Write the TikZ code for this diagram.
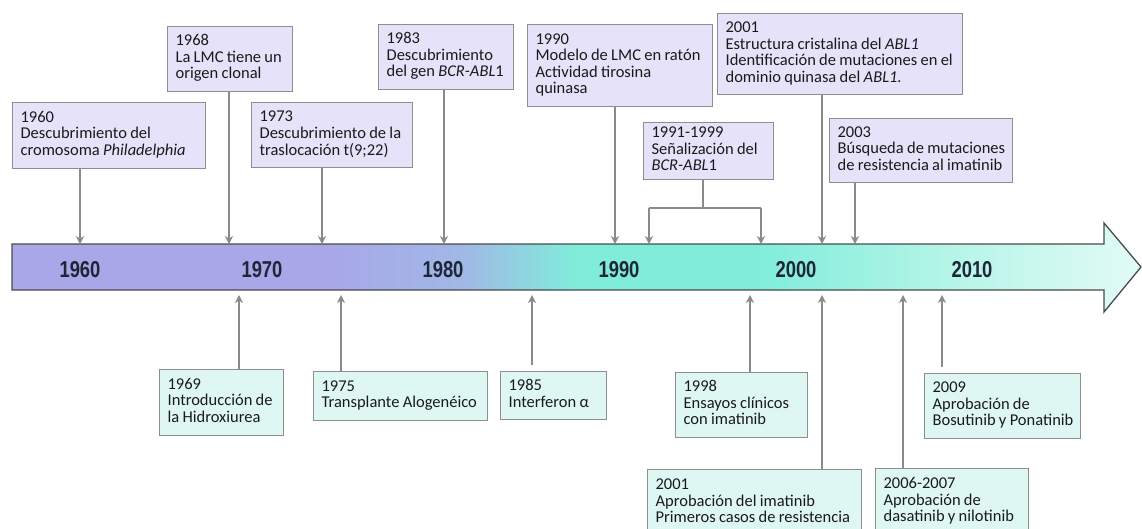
\documentclass[tikz,border=0pt]{standalone}
\usepackage{fontspec}
\setmainfont{Carlito}
\newfontfamily\yearfont{Liberation Sans}
\usetikzlibrary{arrows.meta}
\definecolor{boxline}{HTML}{8E8E8E}
\definecolor{topfill}{HTML}{E6E2FA}
\definecolor{botfill}{HTML}{DEF7F3}
\definecolor{conncol}{HTML}{8A8A8A}
\definecolor{txt}{HTML}{1A1A1A}
\definecolor{yeartxt}{HTML}{1D2738}
\definecolor{barline}{HTML}{4A4A4A}
\definecolor{barA}{HTML}{A9A7E8}
\definecolor{barB}{HTML}{A0B8E6}
\definecolor{barC}{HTML}{80EDDA}
\definecolor{barD}{HTML}{B5F5E8}
\definecolor{barE}{HTML}{E2FBF6}
\pgfdeclarehorizontalshading{timebar}{100bp}{color(0bp)=(barA); color(25bp)=(barA); color(39bp)=(barA); color(45bp)=(barB); color(50bp)=(barC); color(58bp)=(barC); color(66.5bp)=(barD); color(75bp)=(barE); color(100bp)=(barE)}
\newcommand\evlines[1]{{\spaceskip=0.2em plus 0.05em\relax\begin{tabular}{@{}l@{}}#1\end{tabular}}}
\begin{document}
\begin{tikzpicture}[x=1pt,y=-1pt,
  evbox/.style={draw=boxline, line width=1.2pt, anchor=north west, inner xsep=8pt, inner ysep=0pt, align=left, font=\fontsize{16.5}{16.5}\selectfont, text=txt},
  topbox/.style={evbox, fill=topfill},
  botbox/.style={evbox, fill=botfill},
  conn/.style={draw=conncol, line width=1.2pt, -{Stealth[length=8pt,width=8pt,inset=2.5pt]}},
  plainline/.style={draw=conncol, line width=1.2pt},
  yearlbl/.style={font=\yearfont\bfseries\fontsize{23}{23}\selectfont, text=yeartxt, xscale=0.8}]
\clip (0,0) rectangle (1142,528);
\fill[white] (0,0) rectangle (1142,528);

% time bar
\shadedraw[shading=timebar, draw=barline, line width=1.3pt]
  (12,244) -- (1104,244) -- (1104,223) -- (1141,267) -- (1104,312) -- (1104,290) -- (12,290) -- cycle;
\node[yearlbl] (y1960) at (80,270) {1960};
\node[yearlbl] (y1970) at (262,270) {1970};
\node[yearlbl] (y1980) at (443,270) {1980};
\node[yearlbl] (y1990) at (619,270) {1990};
\node[yearlbl] (y2000) at (796,270) {2000};
\node[yearlbl] (y2010) at (972,270) {2010};

% top boxes
\node[topbox, minimum width=193pt, minimum height=66pt, text width=177pt] (t1960) at (12,102) {\evlines{1960\\Descubrimiento del\\cromosoma \textit{Philadelphia}}};
\node[topbox, minimum width=125pt, minimum height=65pt, text width=109pt] (t1968) at (167,26) {\evlines{1968\\La LMC tiene un\\origen clonal}};
\node[topbox, minimum width=161pt, minimum height=65pt, text width=145pt] (t1973) at (251,102) {\evlines{1973\\Descubrimiento de la\\traslocación t(9;22)}};
\node[topbox, minimum width=135pt, minimum height=65pt, text width=119pt] (t1983) at (378,24) {\evlines{1983\\Descubrimiento\\del gen \textit{BCR-ABL}1}};
\node[topbox, minimum width=185pt, minimum height=82pt, text width=169pt] (t1990) at (527,24) {\evlines{1990\\Modelo de LMC en ratón\\Actividad tirosina\\quinasa}};
\node[topbox, minimum width=130pt, minimum height=57pt, text width=114pt] (t1991) at (643,122) {\evlines{1991-1999\\Señalización del\\\textit{BCR-ABL}1}};
\node[topbox, minimum width=245pt, minimum height=81pt, text width=229pt] (t2001) at (717,13) {\evlines{2001\\Estructura cristalina del \textit{ABL1}\\Identificación de mutaciones en el\\dominio quinasa del \textit{ABL1.}}};
\node[topbox, minimum width=183pt, minimum height=64pt, text width=167pt] (t2003) at (829,118) {\evlines{2003\\Búsqueda de mutaciones\\de resistencia al imatinib}};

% bottom boxes
\node[botbox, minimum width=124pt, minimum height=66pt, text width=108pt] (b1969) at (159,369) {\evlines{1969\\Introducción de\\la Hidroxiurea}};
\node[botbox, minimum width=174pt, minimum height=49pt, text width=158pt] (b1975) at (313,371) {\evlines{1975\\Transplante Alogenéico}};
\node[botbox, minimum width=106pt, minimum height=48pt, text width=90pt] (b1985) at (500,371) {\evlines{1985\\Interferon α}};
\node[botbox, minimum width=132pt, minimum height=65pt, text width=116pt] (b1998) at (675,372) {\evlines{1998\\Ensayos clínicos\\con imatinib}};
\node[botbox, minimum width=214pt, minimum height=67pt, text width=198pt] (b2001) at (647,469) {\evlines{2001\\Aprobación del imatinib\\Primeros casos de resistencia}};
\node[botbox, minimum width=153pt, minimum height=67pt, text width=137pt] (b2006) at (875,468) {\evlines{2006-2007\\Aprobación de\\dasatinib y nilotinib}};
\node[botbox, minimum width=156pt, minimum height=65pt, text width=140pt] (b2009) at (924,373) {\evlines{2009\\Aprobación de\\Bosutinib y Ponatinib}};

% arrow end points on the bar
\coordinate (a1960) at (80,244);
\coordinate (a1968) at (229,244);
\coordinate (a1973) at (322,244);
\coordinate (a1983) at (444,244);
\coordinate (a1990) at (615,244);
\coordinate (aL) at (649,244);
\coordinate (aR) at (761,244);
\coordinate (a2001) at (822,244);
\coordinate (a2003) at (855,244);
\coordinate (brL) at (649,208);
\coordinate (brR) at (761,208);
\coordinate (brS) at (703,208);
\coordinate (c1969) at (239,295);
\coordinate (c1975) at (341,295);
\coordinate (c1985) at (532,295);
\coordinate (c1998) at (750,295);
\coordinate (c2001) at (822,295);
\coordinate (c2006) at (903,295);
\coordinate (c2009) at (942,295);

% top connectors
\draw[conn] (a1960 |- t1960.south) -- (a1960);
\draw[conn] (a1968 |- t1968.south) -- (a1968);
\draw[conn] (a1973 |- t1973.south) -- (a1973);
\draw[conn] (a1983 |- t1983.south) -- (a1983);
\draw[conn] (a1990 |- t1990.south) -- (a1990);
\draw[plainline] (brS |- t1991.south) -- (brS);
\draw[plainline] (brL) -- (brR);
\draw[conn] (brL) -- (aL);
\draw[conn] (brR) -- (aR);
\draw[conn] (a2001 |- t2001.south) -- (a2001);
\draw[conn] (a2003 |- t2003.south) -- (a2003);

% bottom connectors
\draw[conn] (c1969 |- b1969.north) -- (c1969);
\draw[conn] (c1975 |- b1975.north) -- (c1975);
\draw[conn, shorten <=6pt] (c1985 |- b1985.north) -- (c1985);
\draw[conn] (c1998 |- b1998.north) -- (c1998);
\draw[conn] (c2001 |- b2001.north) -- (c2001);
\draw[conn] (c2006 |- b2006.north) -- (c2006);
\draw[conn, shorten <=6pt] (c2009 |- b2009.north) -- (c2009);
\end{tikzpicture}
\end{document}
